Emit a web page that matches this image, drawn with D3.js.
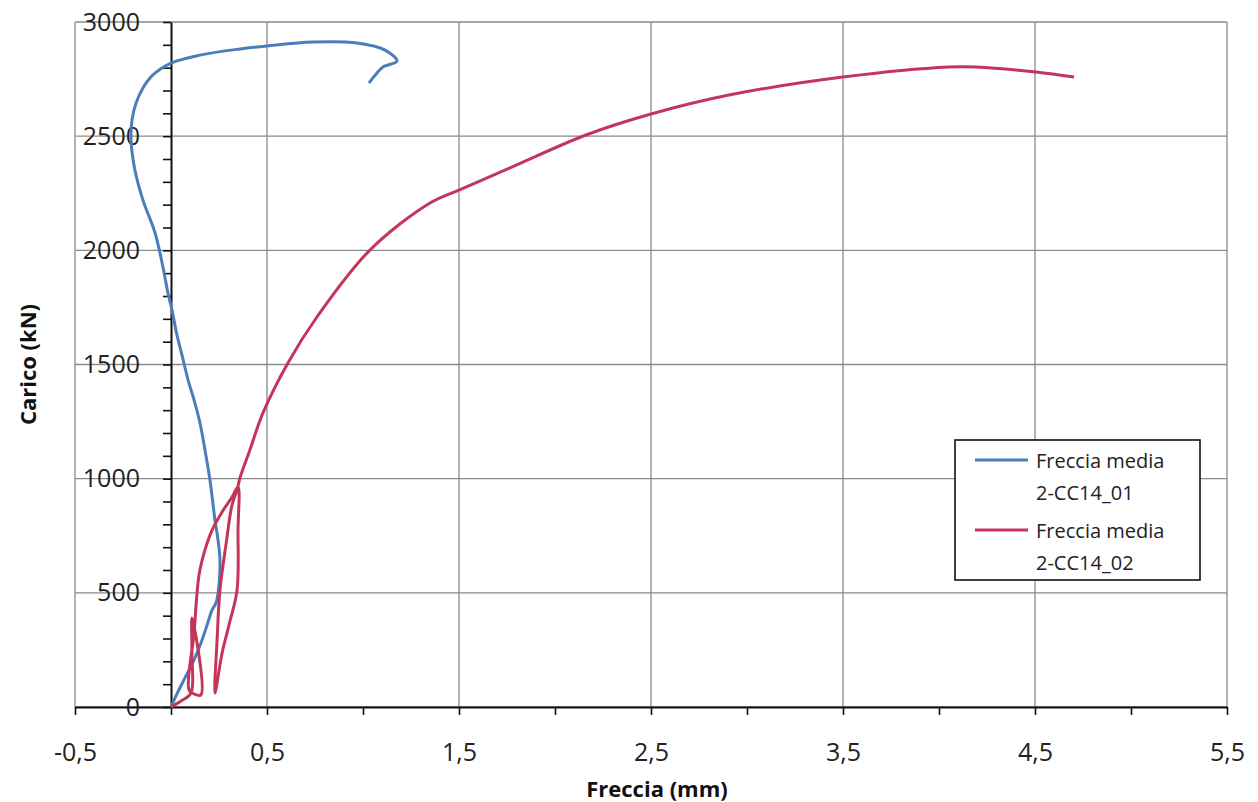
<!DOCTYPE html>
<html>
<head>
<meta charset="utf-8">
<script src="https://cdn.jsdelivr.net/npm/d3@7"></script>
<style>
  body { margin: 0; background: #fff; }
  svg { display: block; font-family: "Open Sans", sans-serif; }
</style>
</head>
<body>
<div id="chart"></div>
<script>
// dati (freccia in mm, carico in kN)

var series_names = ["Freccia media", "Freccia media"];
var series_codes = ["2-CC14_01", "2-CC14_02"];

var freccia_01 = [0, 0.036, 0.078, 0.120, 0.156, 0.188, 0.214, 0.234, 0.25, 0.255, 0.245, 0.229, 0.203, 0.177, 0.151,
  0.120, 0.089, 0.057, 0.031, 0.005, -0.016, -0.042, -0.083, -0.146, -0.188, -0.208, -0.203, -0.182, -0.146,
  -0.094, 0, 0.151, 0.359, 0.5, 0.74, 0.969, 1.115, 1.177, 1.104, 1.073, 1.031];
var carico_01 = [0, 66, 136, 206, 280, 359, 425, 455, 534, 644, 731, 819, 994, 1126, 1244,
  1345, 1432, 1542, 1629, 1739, 1813, 1927, 2076, 2220, 2352, 2483, 2571, 2645, 2711,
  2768, 2820, 2855, 2882, 2895, 2912, 2908, 2877, 2829, 2803, 2777, 2733];

var freccia_02 = [0, 0.052, 0.104, 0.109, 0.109, 0.156, 0.120, 0.094, 0.120, 0.146, 0.177, 0.214, 0.266, 0.318, 0.349,
  0.349, 0.344, 0.302, 0.266, 0.229, 0.240, 0.255, 0.286, 0.318, 0.344, 0.359, 0.411, 0.479, 0.609, 0.760,
  1.036, 1.349, 1.5, 1.766, 2.161, 2.5, 2.906, 3.5, 4.052, 4.193, 4.505, 4.703];
var carico_02 = [0, 26, 61, 228, 390, 53, 57, 74, 324, 578, 688, 775, 854, 920, 964,
  775, 512, 359, 236, 61, 293, 512, 709, 885, 950, 1003, 1126, 1288, 1507, 1708,
  2001, 2207, 2264, 2361, 2505, 2597, 2680, 2759, 2803, 2803, 2781, 2759];

var x_ticks = [-0.5, 0.5, 1.5, 2.5, 3.5, 4.5, 5.5];
var x_minor = [-0.5, 0, 0.5, 1, 1.5, 2, 2.5, 3, 3.5, 4, 4.5, 5, 5.5];
var y_ticks = [0, 500, 1000, 1500, 2000, 2500, 3000];
var y_minor = d3.range(0, 3001, 100);

var colors = ["#4a7ebb", "#c3365a"];

// set up chart

var width = 1258,
  height = 802;
var margin = {top: 22, right: 31, bottom: 95, left: 75};

var x = d3.scaleLinear()
    .domain([-0.5, 5.5])
    .range([margin.left, width - margin.right]);

var y = d3.scaleLinear()
    .domain([0, 3000])
    .range([height - margin.bottom, margin.top]);

var svg = d3.select("#chart").append("svg")
    .attr("width", width)
    .attr("height", height);

// griglia

svg.append("g")
  .selectAll("line")
  .data(y_ticks)
  .enter().append("line")
  .attr("x1", x(-0.5))
  .attr("x2", x(5.5))
  .attr("y1", function(d) { return y(d); })
  .attr("y2", function(d) { return y(d); })
  .attr("stroke", "#8a8a8a")
  .attr("stroke-width", 1.3);

svg.append("g")
  .selectAll("line")
  .data(x_ticks)
  .enter().append("line")
  .attr("x1", function(d) { return x(d); })
  .attr("x2", function(d) { return x(d); })
  .attr("y1", y(0))
  .attr("y2", y(3000))
  .attr("stroke", "#8a8a8a")
  .attr("stroke-width", 1.3);

// assi

var xAxis = svg.append("g")
  .attr("transform", "translate(0," + y(0) + ")")
  .call(d3.axisBottom(x)
    .tickValues(x_minor)
    .tickSize(8)
    .tickSizeOuter(0)
    .tickPadding(28)
    .tickFormat(function(d) {
      return x_ticks.indexOf(d) >= 0 ? String(d).replace(".", ",") : "";
    }));

var yAxis = svg.append("g")
  .attr("transform", "translate(" + x(0) + ",0)")
  .call(d3.axisLeft(y)
    .tickValues(y_minor)
    .tickSize(8)
    .tickSizeOuter(0)
    .tickPadding(23)
    .tickFormat(function(d) { return d % 500 === 0 ? d : ""; }));

[xAxis, yAxis].forEach(function(a) {
  a.select(".domain").attr("stroke", "#111").attr("stroke-width", 2);
  a.selectAll(".tick line").attr("stroke", "#111").attr("stroke-width", 1.6);
  a.selectAll(".tick text")
    .attr("fill", "#222")
    .style("font-size", "25px")
    .style("font-family", "'Open Sans', sans-serif");
});

// titoli assi

svg.append("text")
  .attr("transform", "translate(28," + ((y(0) + y(3000)) / 2) + ") rotate(-90)")
  .attr("text-anchor", "middle")
  .attr("dy", "0.35em")
  .style("font-size", "22px")
  .style("font-weight", "bold")
  .attr("fill", "#111")
  .text("Carico (kN)");

svg.append("text")
  .attr("x", 657)
  .attr("y", 797)
  .attr("text-anchor", "middle")
  .style("font-size", "22px")
  .style("font-weight", "bold")
  .attr("fill", "#111")
  .text("Freccia (mm)");

// curve

var series = [
  d3.zip(freccia_01, carico_01),
  d3.zip(freccia_02, carico_02)
];

var line = d3.line()
    .x(function(d) { return x(d[0]); })
    .y(function(d) { return y(d[1]); })
    .curve(d3.curveCatmullRom.alpha(0.5));

svg.append("g")
  .selectAll("path")
  .data(series)
  .enter().append("path")
  .attr("d", line)
  .attr("fill", "none")
  .attr("stroke", function(d, i) { return colors[i]; })
  .attr("stroke-width", 3)
  .attr("stroke-linejoin", "round");

// legenda

var legend = svg.append("g").attr("class", "legend");

legend.append("rect")
  .attr("x", 955)
  .attr("y", 440)
  .attr("width", 245)
  .attr("height", 140)
  .attr("fill", "#fff")
  .attr("stroke", "#111")
  .attr("stroke-width", 1.6);

var entries = legend.selectAll("g.entry")
  .data(series_codes)
  .enter().append("g")
  .attr("class", "entry")
  .attr("transform", function(d, i) { return "translate(0," + (i * 70) + ")"; });

entries.append("line")
  .attr("x1", 975)
  .attr("x2", 1028)
  .attr("y1", 460)
  .attr("y2", 460)
  .attr("stroke", function(d, i) { return colors[i]; })
  .attr("stroke-width", 3);

entries.append("text")
  .attr("x", 1036)
  .attr("y", 468)
  .style("font-size", "20px")
  .attr("fill", "#222")
  .text(function(d, i) { return series_names[i]; });

entries.append("text")
  .attr("x", 1036)
  .attr("y", 500)
  .style("font-size", "20px")
  .attr("fill", "#222")
  .text(function(d) { return d; });
</script>
</body>
</html>
